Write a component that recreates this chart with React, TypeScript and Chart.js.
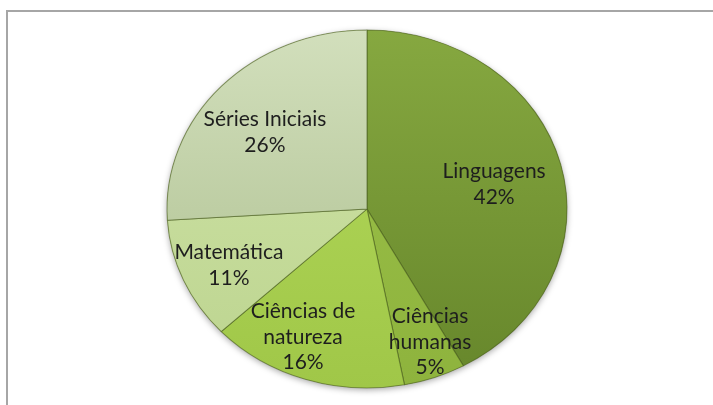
import React, { useEffect, useRef } from "react";
import { Chart, registerables } from "chart.js";

Chart.register(...registerables);

const categories = ["Linguagens", "Ciências humanas", "Ciências de natureza", "Matemática", "Séries Iniciais"];
const labelLines = [["Linguagens"], ["Ciências", "humanas"], ["Ciências de", "natureza"], ["Matemática"], ["Séries Iniciais"]];
const values = [42, 5, 16, 11, 26];
const topColors = ["#86a840", "#9cc24a", "#b4da5c", "#d0e4a8", "#d2dfbc"];
const bottomColors = ["#66862b", "#8eb33d", "#a0c748", "#bcd48f", "#aabd8c"];
const labelRadius = [0.65, 0.807, 0.783, 0.758, 0.667];
const labelAngleNudge = [2.2, -3.2, 6.1, -1, -3.1];

const SX = 200 / 179;

const ellipsePlugin = {
  id: "ellipsePie",
  beforeDatasetsDraw(chart: any) {
    const ctx = chart.ctx;
    const arc = chart.getDatasetMeta(0).data[0] as any;
    const cx = arc.x, cy = arc.y, R = arc.outerRadius;
    ctx.save();
    ctx.translate(cx, cy);
    ctx.scale(SX, 1);
    ctx.translate(-cx, -cy);
    ctx.save();
    ctx.shadowColor = "rgba(0,0,0,0.35)";
    ctx.shadowBlur = 6;
    ctx.shadowOffsetY = 2;
    ctx.beginPath();
    ctx.arc(cx, cy, R, 0, Math.PI * 2);
    ctx.fillStyle = "#8aa040";
    ctx.fill();
    ctx.restore();
  },
  afterDatasetsDraw(chart: any) {
    const ctx = chart.ctx;
    ctx.restore();
    const meta = chart.getDatasetMeta(0);
    const total = values.reduce((a, b) => a + b, 0);
    ctx.save();
    ctx.font = "21px Lato";
    ctx.fillStyle = "#1e1e1e";
    ctx.textAlign = "center";
    ctx.textBaseline = "middle";
    meta.data.forEach((el: any, i: number) => {
      const mid = (el.startAngle + el.endAngle) / 2 + (labelAngleNudge[i] * Math.PI) / 180;
      const r = el.outerRadius * labelRadius[i];
      const x = el.x + r * SX * Math.cos(mid);
      const y = el.y + r * Math.sin(mid);
      const lines = [...labelLines[i], Math.round((values[i] / total) * 100) + "%"];
      const lh = 25.5;
      lines.forEach((t, j) => {
        ctx.fillText(t, x, y + (j - (lines.length - 1) / 2) * lh);
      });
    });
    ctx.restore();
  },
};

export default function App() {
  const ref = useRef<HTMLCanvasElement>(null);
  useEffect(() => {
    if (!ref.current) return;
    const chart = new Chart(ref.current, {
      type: "pie",
      data: {
        labels: categories,
        datasets: [
          {
            data: values,
            backgroundColor: (c: any) => {
              const ch = c.chart;
              const area = ch.chartArea;
              const i = c.dataIndex;
              if (!area) return topColors[i];
              const g = ch.ctx.createLinearGradient(0, area.top, 0, area.bottom);
              g.addColorStop(0, topColors[i]);
              g.addColorStop(1, bottomColors[i]);
              return g;
            },
            borderColor: "rgba(70,90,30,0.55)",
            borderWidth: 1,
          },
        ],
      },
      options: {
        responsive: false,
        animation: false,
        radius: 179,
        layout: { padding: { left: 21, top: 30, bottom: 17, right: 0 } },
        plugins: { legend: { display: false }, tooltip: { enabled: false } },
      } as any,
      plugins: [ellipsePlugin],
    });
    return () => chart.destroy();
  }, []);
  return (
    <div style={{ position: "fixed", left: 0, top: 0, width: 713, height: 405, background: "#fff", overflow: "hidden" }}>
      <div
        style={{
          position: "absolute",
          left: 6,
          top: 10,
          width: 800,
          height: 500,
          borderTop: "2px solid #a6a6a6",
          borderLeft: "2px solid #a6a6a6",
        }}
      />
      <canvas ref={ref} width={713} height={405} style={{ position: "absolute", left: 0, top: 0 }} />
    </div>
  );
}
